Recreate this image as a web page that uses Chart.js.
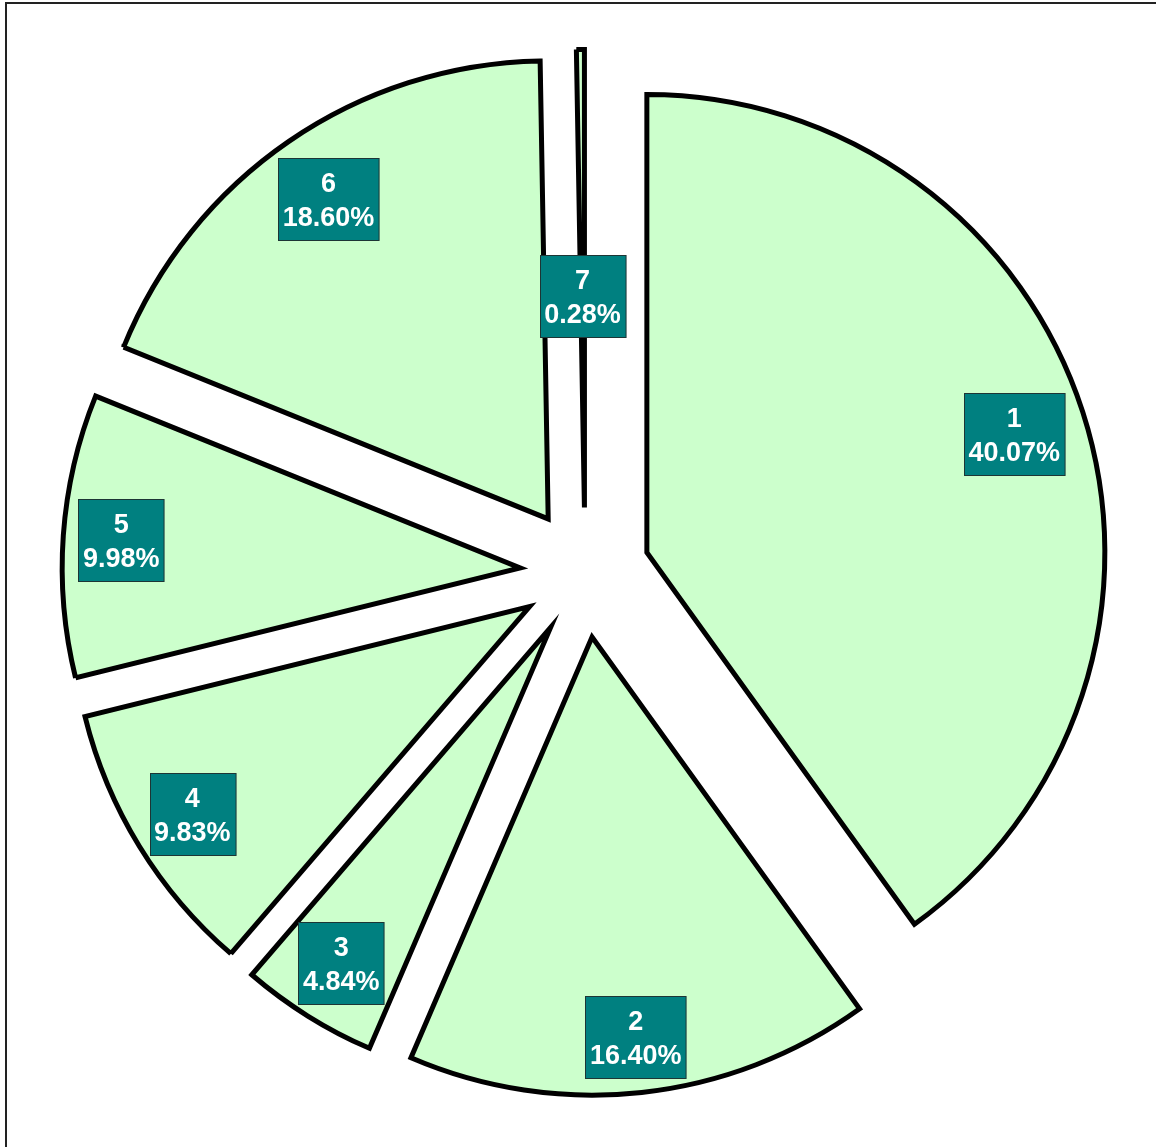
<!DOCTYPE html>
<html lang="en">
<head>
  <meta charset="UTF-8">
  <title>Pie</title>
  <script src="https://cdn.jsdelivr.net/npm/chart.js"></script>
</head>
<style>
  html, body {
    margin: 0;
    padding: 0;
    background: #fff;
    overflow: hidden;
  }

  .frame {
    position: absolute;
    left: 5px;
    top: 2px;
    width: 1200px;
    height: 1200px;
    border-left: 2px solid #222;
    border-top: 2px solid #222;
  }

  canvas {
    position: absolute;
    left: 0;
    top: 0;
  }
</style>

<body>
  <div class="frame"></div>
  <canvas id="graficoPizza" width="1156" height="1147"></canvas>
</body>

</html>
<script>
  // dados
  const categorias = ["1", "2", "3", "4", "5", "6", "7"];
  const percentuais = [40.07, 16.40, 4.84, 9.83, 9.98, 18.60, 0.28];

  const explode = 65;
  // distancia do rotulo a partir do vertice de cada fatia
  const distRotulo = [386, 402, 395, 396, 400, 388, 212];

  const explodePlugin = {
    id: 'explode',
    afterUpdate(chart) {
      chart.getDatasetMeta(0).data.forEach(arc => {
        if (arc._explodido) return;
        const base = arc.draw;
        arc.draw = function (ctx, area) {
          const meio = (this.startAngle + this.endAngle) / 2;
          ctx.save();
          ctx.translate(Math.cos(meio) * explode, Math.sin(meio) * explode);
          base.call(this, ctx, area);
          ctx.restore();
        };
        arc._explodido = true;
      });
    }
  };

  const rotulosPlugin = {
    id: 'rotulos',
    afterDatasetsDraw(chart) {
      const ctx = chart.ctx;
      const meta = chart.getDatasetMeta(0);
      ctx.save();
      ctx.font = "bold 27px 'Liberation Sans', Arial, sans-serif";
      ctx.textAlign = 'center';
      ctx.textBaseline = 'alphabetic';
      meta.data.forEach((arc, i) => {
        const meio = (arc.startAngle + arc.endAngle) / 2;
        const d = explode + distRotulo[i];
        const cx = arc.x + Math.cos(meio) * d;
        const cy = arc.y + Math.sin(meio) * d;
        const linha1 = categorias[i];
        const linha2 = percentuais[i].toFixed(2) + '%';
        const w = Math.max(ctx.measureText(linha1).width, ctx.measureText(linha2).width) + 9;
        const h = 82;
        const x0 = Math.round(cx - w / 2) + 0.5;
        const y0 = Math.round(cy - h / 2) + 0.5;
        ctx.fillStyle = '#008080';
        ctx.fillRect(x0, y0, w, h);
        ctx.strokeStyle = '#1d3535';
        ctx.lineWidth = 1;
        ctx.strokeRect(x0, y0, w, h);
        ctx.fillStyle = '#ffffff';
        ctx.fillText(linha1, cx, y0 + 33);
        ctx.fillText(linha2, cx, y0 + 67);
      });
      ctx.restore();
    }
  };

  const ctx = document.getElementById("graficoPizza").getContext("2d");

  const grafico = new Chart(ctx, {
    type: "pie",
    data: {
      labels: categorias,
      datasets: [
        {
          data: percentuais,
          backgroundColor: '#ccffcc',
          borderColor: '#000000',
          borderWidth: 5,
          borderJoinStyle: 'miter'
        }
      ]
    },
    options: {
      responsive: false,
      animation: false,
      devicePixelRatio: 1,
      radius: 458,
      layout: {
        padding: { left: 14, bottom: 2 }
      },
      plugins: {
        legend: { display: false },
        tooltip: { enabled: false }
      }
    },
    plugins: [explodePlugin, rotulosPlugin]
  });
</script>
